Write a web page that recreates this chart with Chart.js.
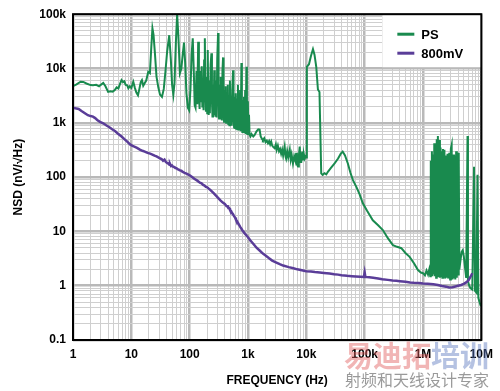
<!DOCTYPE html>
<html><head><meta charset="utf-8">
<script src="https://cdn.jsdelivr.net/npm/chart.js@4.4.0/dist/chart.umd.min.js"></script>
<style>html,body{margin:0;padding:0;background:#fff}#wrap{width:500px;height:391px;position:relative}</style>
</head><body><div id="wrap"><canvas id="c" width="500" height="391"></canvas></div>
<script>
const xTickValues=[1,10,100,1000,10000,100000,1000000,10000000];
const xTickLabels=['1','10','100','1k','10k','100k','1M','10M'];
const yTickValues=[0.1,1,10,100,1000,10000,100000];
const yTickLabels=['0.1','1','10','100','1k','10k','100k'];
const seriesNames=['PS','800mV'];

const psPoints=[[1,4750],[1.15,5100],[1.35,5700],[1.5,5650],[1.7,5300],[2.0,4950],[2.2,4900],[2.5,5000],[2.8,4700],[3.0,5000],[3.3,5400],[3.6,4700],[4.0,3700],[4.4,3800],[4.8,3750],[5.2,4000],[5.6,4500],[6.0,4300],[6.4,5200],[6.8,6100],[7.2,5600],[7.6,5800],[8.0,5000],[8.5,4900],[8.9,4300],[9.4,4700],[10.0,4400],[10.8,5700],[11.5,4400],[12.2,3600],[13.0,3200],[13.8,4300],[14.5,5600],[15.2,6100],[16.0,4800],[17.0,5400],[18.0,6000],[19.5,8700],[20.8,8200],[22.0,25000],[23.0,55000],[24.0,42000],[25.3,20000],[27.0,7100],[29.0,4500],[31.0,3300],[33.5,3000],[36.0,4200],[38.5,9000],[41.0,20000],[44.7,41000],[47.5,15000],[50.0,5000],[52.5,3300],[55.0,5500],[58.0,30000],[61.0,100000],[64.0,40000],[68.0,8200],[72.0,10000],[76.0,18000],[80.0,30000],[84.0,12000],[88.0,3500],[93.0,1900],[98.0,1700],[103.0,4000],[108.0,18000],[113.0,36000],[118.0,8000],[122.0,2100],
[126,1900],[131,9000],[135,2200],[140,31000],[144,3500],[148,1800],[152,9000],[156,2400],[161,11000],[165,2000],[169,6000],[173,1700],[177,14000],[182,36000],[186,4000],[190,1600],[195,7000],[200,1500],[204,22000],[208,3500],[212,1400],[217,6000],[222,1500],[229,12000],[236,19000],[241,2500],[246,1300],[251,5000],[257,1400],[264,9300],[270,2000],[276,1300],[283,6000],[290,1250],[297,15000],[307,45000],[313,3000],[319,1200],[326,5000],[333,1200],[341,7000],[350,3000],[357,1100],[365,9000],[374,16000],[381,2000],[389,1050],[397,4000],[405,1100],[414,4700],[423,1000],[432,3500],[441,1000],[450,5000],[460,950],[470,3000],[480,900],[490,6000],[500,1000],[512,3000],[524,880],[537,4000],[555,9300],[565,1200],[578,820],[590,3000],[603,800],[616,3500],[630,780],[644,2800],[658,760],[672,5000],[686,750],[700,2500],[716,720],[732,4000],[750,700],[771,12600],[785,1500],[800,680],[818,2600],[836,660],[855,3000],[874,640],[895,4000],[915,620],[940,10800],[958,1000],[975,620],[995,2500],[1015,640],[1040,1400],[1065,600],[1100,560],[1150,620],[1230,560],[1300,600],[1400,700],[1500,760],[1580,750],[1650,560],
[1750,500],[1800,480],[1900,520],[2000,440],[2100,470],[2200,420],[2300,460],[2400,400],[2500,450],[2600,380],[2700,360],[2860,340],[3000,400],[3100,320],[3250,380],[3400,300],[3550,330],[3700,270],[3850,320],[4000,250],[4250,365],[4400,240],[4500,220],[4700,300],[4900,230],[5200,320],[5400,210],[5600,260],[5900,178],[6200,240],[6500,200],[6700,280],[6900,170],[7200,157],[7450,250],[7700,365],[7950,190],[8200,190],[8500,295],[8800,210],[9100,260],[9400,220],[9700,240],[10000,230],
[10200,10700],[11100,12000],[12000,17000],[13000,22800],[13800,18000],[14800,10700],[15800,4100],[16800,3700],[18000,117],[19000,110],[20500,118],[22000,112],[23400,125],[26000,145],[30500,178],[35000,220],[39000,270],[42000,295],[46000,250],[51500,178],[57000,120],[63000,88],[72000,66],[82000,48],[93000,33],[110000,24],[138000,16],[170000,13],[205000,10.6],[250000,7.5],[305000,5.6],[360000,5.2],[425000,4.9],[500000,4.0],[590000,3.4],[700000,2.6],[820000,1.94],[920000,1.75],
[1.0e6,1.7],[1.08e6,1.55],[1.15e6,1.9],[1.22e6,1.6],[1.28e6,2.0],[1.33e6,1.5],[1.36e6,200],[1.39e6,1.6],[1.42e6,300],[1.45e6,1.5],[1.49e6,260],[1.52e6,1.6],[1.56e6,420],[1.6e6,1.5],[1.64e6,380],[1.68e6,1.4],[1.72e6,500],[1.76e6,1.5],[1.8e6,570],[1.84e6,1.5],[1.9e6,480],[1.95e6,1.4],[2.0e6,350],[2.05e6,1.5],[2.1e6,300],[2.15e6,1.4],[2.2e6,330],[2.27e6,1.4],[2.33e6,320],[2.4e6,1.35],[2.48e6,250],[2.55e6,1.4],[2.63e6,270],[2.72e6,1.35],[2.82e6,280],[2.92e6,1.3],[3.0e6,330],[3.1e6,390],[3.2e6,1.3],[3.3e6,260],[3.4e6,1.35],[3.47e6,250],[3.58e6,1.3],[3.7e6,300],[3.8e6,1.4],[3.9e6,270],[4.0e6,1.6],[4.1e6,280],[4.2e6,2.0],[4.4e6,3.0],[4.6e6,4.2],[4.8e6,4.5],[5.0e6,3.5],[5.3e6,2.0],[5.5e6,1.4],[5.8e6,570],[5.9e6,1.2],[6.2e6,1.0],[6.5e6,0.9],[7.0e6,0.85],[7.5e6,155],[7.8e6,0.8],[8.2e6,0.75],[8.6e6,110],[8.9e6,0.6],[9.3e6,0.5],[9.8e6,0.42]];

const mvPoints=[[1,1900],[1.1,1850],[1.25,1800],[1.4,1650],[1.6,1500],[1.8,1380],[2.0,1330],[2.2,1300],[2.4,1220],[2.6,1130],[2.9,1040],[3.3,980],[3.7,900],[4.2,830],[4.7,760],[5.3,700],[6.0,620],[6.8,560],[7.6,500],[8.5,450],[9.5,400],[10.5,375],[11.5,360],[12.5,345],[14,320],[15.5,305],[17,295],[19,280],[21,270],[23,260],[25,248],[27,240],[29,230],[31,222],[33,215],[35,200],[37,210],[39,190],[41,182],[43,178],[45,168],[46,176],[48,160],[50,163],[52,155],[55,152],[57,147],[60,145],[62,140],[65,137],[68,133],[72,131],[75,126],[82,120],[90,115],[100,108],[110,100],[120,93],[135,86],[150,79],[160,77],[170,72],[180,70],[190,66],[200,65],[210,62],[230,57],[255,51],[280,46],[310,41],[340,37],[370,34],[400,32],[430,29],[450,29],[460,27],[475,27],[490,25],[510,24],[530,22],[550,21],[570,19.5],[600,18],[620,16.5],[650,15.5],[680,14],[740,12],[800,10.5],[870,9.3],[950,8.3],[1000,7.8],[1100,6.8],[1250,5.8],[1400,5.0],[1600,4.4],[1800,3.9],[2000,3.6],[2300,3.2],[2600,2.9],[3000,2.7],[3500,2.5],[4000,2.35],[5000,2.2],[6000,2.1],[7000,2.0],[8000,1.95],[10000,1.85],[12000,1.82],[14000,1.78],[17000,1.75],[20000,1.72],[25000,1.68],[30000,1.63],[35000,1.6],[40000,1.56],[50000,1.52],[60000,1.5],[70000,1.48],[85000,1.46],[97000,1.45],[100000,1.75],[103000,1.45],[120000,1.43],[140000,1.4],[170000,1.36],[200000,1.32],[250000,1.28],[300000,1.25],[350000,1.23],[400000,1.21],[500000,1.18],[600000,1.15],[700000,1.13],[850000,1.12],[1e6,1.1],[1.2e6,1.09],[1.5e6,1.06],[1.8e6,1.03],[2.1e6,0.99],[2.5e6,0.96],[2.8e6,0.93],[3.2e6,0.94],[3.6e6,0.97],[4.0e6,1.0],[4.5e6,1.03],[5.0e6,1.08],[5.5e6,1.15],[6.0e6,1.25],[6.5e6,1.45],[7.0e6,1.7]];

const GREEN='#198a4e', PURPLE='#5a3d98';
const FONT='"Liberation Sans", Arial, Helvetica, sans-serif';

function logTicks(majors){const t=[];for(let i=0;i<majors.length;i++){t.push(majors[i]);if(i<majors.length-1){for(let k=2;k<=9;k++)t.push(majors[i]*k);}}return t;}
function isMajor(v){const l=Math.log10(v);return Math.abs(l-Math.round(l))<1e-9;}
function labelFor(v,vals,labels){for(let i=0;i<vals.length;i++){if(Math.abs(Math.log10(v)-Math.log10(vals[i]))<1e-9)return labels[i];}return '';}
const gridOpts={color:c=>(c.tick&&isMajor(c.tick.value))?'#b9b9b9':'#cfcfcf',lineWidth:c=>(c.tick&&isMajor(c.tick.value))?2.5:1,drawTicks:false};

const decor={id:'decor',
 afterDatasetsDraw(chart){
  const {ctx,chartArea:a}=chart;ctx.save();
  const lx=a.right-99, ly=a.top;
  ctx.fillStyle='#fff';ctx.fillRect(lx,ly,99,53);
  ctx.lineWidth=3;
  ctx.strokeStyle=GREEN;ctx.beginPath();ctx.moveTo(lx+15,ly+20);ctx.lineTo(lx+32,ly+20);ctx.stroke();
  ctx.strokeStyle=PURPLE;ctx.beginPath();ctx.moveTo(lx+15,ly+39);ctx.lineTo(lx+32,ly+39);ctx.stroke();
  ctx.fillStyle='#000';ctx.font='bold 13px '+FONT;ctx.textBaseline='middle';ctx.textAlign='left';
  ctx.fillText(seriesNames[0],lx+39,ly+21);ctx.fillText(seriesNames[1],lx+39,ly+40);
  ctx.strokeStyle='#000';ctx.lineWidth=2;ctx.strokeRect(a.left,a.top,a.right-a.left,a.bottom-a.top);
  ctx.restore();
 },
 afterDraw(chart){
  const ctx=chart.ctx;ctx.save();
  ctx.textBaseline='middle';ctx.textAlign='left';
  ctx.font='bold 29px "Noto Sans CJK SC"';
  ctx.fillStyle='rgba(225,90,90,0.45)';ctx.fillText('易迪拓',344,356);
  ctx.fillStyle='rgba(90,120,190,0.45)';ctx.fillText('培训',431,356);
  ctx.font='16px "Noto Sans CJK SC"';ctx.fillStyle='rgba(120,120,120,0.75)';
  ctx.fillText('射频和天线设计专家',345,380);
  ctx.restore();
 }};

new Chart(document.getElementById('c'),{
 type:'line',
 data:{datasets:[
  {label:seriesNames[0],data:psPoints.map(p=>({x:p[0],y:p[1]})),borderColor:GREEN,borderWidth:2,pointRadius:0,tension:0,order:1},
  {label:seriesNames[1],data:mvPoints.map(p=>({x:p[0],y:p[1]})),borderColor:PURPLE,borderWidth:2.5,pointRadius:0,tension:0,order:0}
 ]},
 options:{responsive:false,animation:false,devicePixelRatio:1,
  layout:{padding:{left:0,right:18,top:14,bottom:0}},
  plugins:{legend:{display:false},tooltip:{enabled:false}},
  scales:{
   x:{type:'logarithmic',min:1,max:1e7,
    afterBuildTicks:s=>{s.ticks=logTicks(xTickValues).map(v=>({value:v}));},
    afterFit:s=>{s.height=51;},
    ticks:{autoSkip:false,maxRotation:0,padding:7,color:'#000',font:{family:FONT,size:12,weight:'bold'},callback:v=>labelFor(v,xTickValues,xTickLabels)},
    grid:gridOpts,border:{display:false},
    title:{display:true,text:'FREQUENCY (Hz)',color:'#000',font:{family:FONT,size:12,weight:'bold'},padding:{top:0,bottom:3}}},
   y:{type:'logarithmic',min:0.1,max:1e5,
    afterBuildTicks:s=>{s.ticks=logTicks(yTickValues).map(v=>({value:v}));},
    afterFit:s=>{s.width=73;},
    ticks:{autoSkip:false,padding:7,color:'#000',font:{family:FONT,size:12,weight:'bold'},callback:v=>labelFor(v,yTickValues,yTickLabels)},
    grid:gridOpts,border:{display:false},
    title:{display:true,text:'NSD (nV/√Hz)',color:'#000',font:{family:FONT,size:12,weight:'bold'},padding:{top:11,bottom:0}}}
  }}
 ,plugins:[decor]});
</script></body></html>
